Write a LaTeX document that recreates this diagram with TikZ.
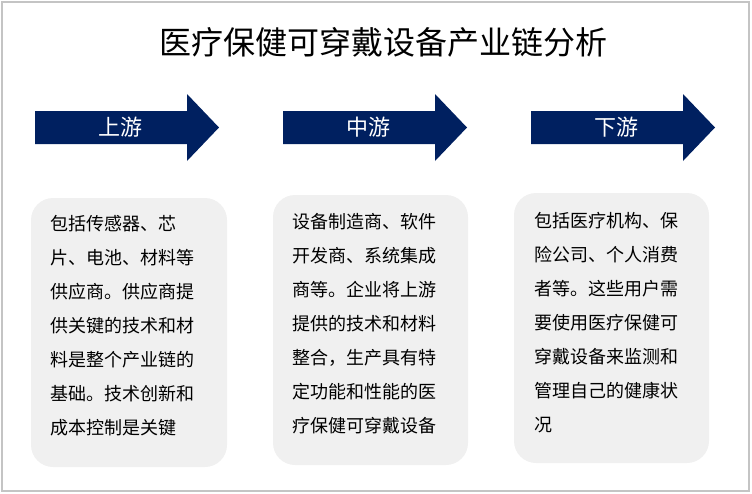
\documentclass[tikz,border=0pt]{standalone}
\usepackage{fontspec}
\setmainfont{Noto Sans CJK SC}
\definecolor{chainblue}{HTML}{002060}
\definecolor{boxgray}{HTML}{F0F0F0}
\definecolor{framegray}{HTML}{C4C4C4}

\begin{document}
\begin{tikzpicture}[
  x=1pt,
  y=-1pt,
  stage arrow/.style={
    fill=chainblue,
  },
  stage label/.style={
    text=white,
    inner sep=0pt,
    font=\fontsize{22}{26}\selectfont
  },
  info box/.style={
    fill=boxgray,
    rounded corners=22pt
  },
  info text/.style={
    align=left,
    anchor=north west,
    inner sep=0pt,
    font=\fontsize{18}{34}\selectfont
  },
  chart title/.style={
    inner sep=0pt,
    font=\fontsize{32}{38}\selectfont
  },
]
\useasboundingbox (0,0) rectangle (752,493);
\draw[framegray, line width=1.5pt] (2,2) rectangle (749,491);

\node[chart title] (title) at (383,42) {医疗保健可穿戴设备产业链分析};

% stage arrows
\foreach \l/\name/\txt in {35/up/上游, 283/mid/中游, 531/down/下游}{
  \fill[stage arrow] (\l,111) -- ({\l+152},111) -- ({\l+152},94)
    -- ({\l+184},127.5) -- ({\l+152},161) -- ({\l+152},144)
    -- (\l,144) -- cycle;
  \node[stage label] (\name) at ({\l+85},127.5) {\txt};
}

% text boxes
\fill[info box] (31,198) rectangle (227,467);
\fill[info box] (273,195) rectangle (468,465);
\fill[info box] (514,193) rectangle (709,463);

\node[info text] (uptext) at (50,215) {%
  包括传感器、芯\\
  片、电池、材料等\\
  供应商。供应商提\\
  供关键的技术和材\\
  料是整个产业链的\\
  基础。技术创新和\\
  成本控制是关键};
\node[info text] (midtext) at (292,213) {%
  设备制造商、软件\\
  开发商、系统集成\\
  商等。企业将上游\\
  提供的技术和材料\\
  整合，生产具有特\\
  定功能和性能的医\\
  疗保健可穿戴设备};
\node[info text] (downtext) at (534,212) {%
  包括医疗机构、保\\
  险公司、个人消费\\
  者等。这些用户需\\
  要使用医疗保健可\\
  穿戴设备来监测和\\
  管理自己的健康状\\
  况};
\end{tikzpicture}
\end{document}
